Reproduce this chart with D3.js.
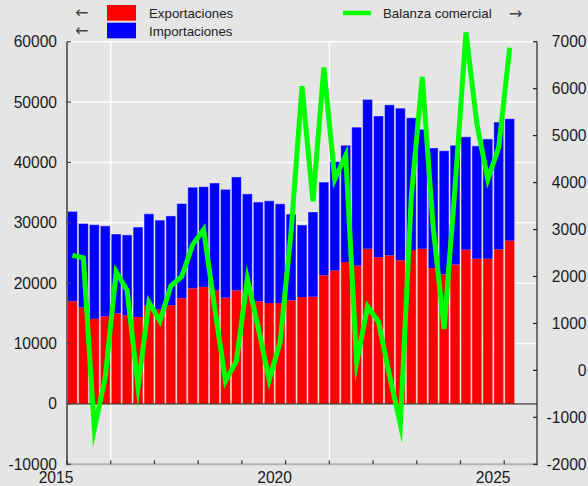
<!DOCTYPE html>
<html>
<head>
<meta charset="utf-8">
<script src="https://cdn.jsdelivr.net/npm/d3@7"></script>
<style>
  body { margin: 0; background: #e5e5e5; }
  text { font-family: "Liberation Sans", Arial, sans-serif; }
</style>
</head>
<body>
<script>
// quarterly values, 2015T1 .. 2025T1
var exportaciones = [17000,16000,14100,14500,15000,14700,14400,16300,15650,16350,
  17500,19150,19400,18800,17600,18800,18250,17000,16700,16700,
  17150,17700,17750,21300,22100,23500,22900,25700,24300,24600,
  23800,25500,25700,22500,21450,23100,25550,24050,24050,25600,27050];
var importaciones = [14900,13900,15600,15000,13150,13300,14900,15200,14800,14800,
  15700,16750,16600,17800,17950,18800,16550,16450,16950,16450,
  14300,11950,14050,15450,18050,19350,22950,24750,23400,24950,
  25200,21900,19800,19900,20500,19750,18700,18700,19850,21100,20200];
var balanza = [2450,2400,-1250,-150,2100,1700,-350,1450,1050,1800,
  2000,2680,3000,1350,-230,200,1950,900,-200,600,
  2950,6050,3600,6450,4070,4580,180,1360,1030,-100,
  -1150,3700,6250,3050,880,3900,7200,5250,4070,4750,6870];
var leftTicks = [-10000,0,10000,20000,30000,40000,50000,60000];
var rightTicks = [-2000,-1000,0,1000,2000,3000,4000,5000,6000,7000];
var yearTicks = [2015,2016,2017,2018,2019,2020,2021,2022,2023,2024,2025];
var yearLabels = [2015,2020,2025];
var gridYears = [2016,2021];

var width = 588, height = 486;
var plotLeft = 67, plotRight = 537, plotTop = 41.7, plotBottom = 464.3;

// one row per quarter, t = start of the quarter in years
var data = exportaciones.map(function(d,i){
  return {t: 2015 + i/4, exp: d, imp: importaciones[i], bal: balanza[i]};
});

var x = d3.scaleLinear().domain([2015, 2025.75]).range([plotLeft, plotRight]);
var y = d3.scaleLinear().domain([-10000, 60000]).range([plotBottom, plotTop]);
var y2 = d3.scaleLinear().domain([-2000, 7000]).range([plotBottom, plotTop]);

var svgContainer = d3.select("body").append("svg")
  .attr("width", width)
  .attr("height", height);

//grid
svgContainer.append("g").selectAll("line").data(leftTicks.filter(function(d){return d > 0;}))
  .enter().append("line")
  .attr("x1", plotLeft).attr("x2", plotRight)
  .attr("y1", function(d){return y(d);}).attr("y2", function(d){return y(d);})
  .attr("stroke", "white").attr("stroke-width", 1.5);
svgContainer.append("g").selectAll("line").data(gridYears)
  .enter().append("line")
  .attr("x1", function(d){return x(d);}).attr("x2", function(d){return x(d);})
  .attr("y1", plotTop).attr("y2", plotBottom)
  .attr("stroke", "white").attr("stroke-width", 1.5);

//bars
var bars = svgContainer.append("g");
bars.selectAll(".exp").data(data).enter().append("rect")
  .attr("class", "exp")
  .attr("x", function(d){return x(d.t) + 0.5;})
  .attr("width", function(d){return x(d.t + 0.25) - x(d.t) - 1;})
  .attr("y", function(d){return y(d.exp);})
  .attr("height", function(d){return y(0) - y(d.exp);})
  .style("fill", "#ff0000");
bars.selectAll(".imp").data(data).enter().append("rect")
  .attr("class", "imp")
  .attr("x", function(d){return x(d.t) + 0.5;})
  .attr("width", function(d){return x(d.t + 0.25) - x(d.t) - 1;})
  .attr("y", function(d){return y(d.exp + d.imp);})
  .attr("height", function(d){return y(d.exp) - y(d.exp + d.imp);})
  .style("fill", "#0000ff");
bars.selectAll(".outline").data(data).enter().append("rect")
  .attr("class", "outline")
  .attr("x", function(d){return x(d.t) + 0.5;})
  .attr("width", function(d){return x(d.t + 0.25) - x(d.t) - 1;})
  .attr("y", function(d){return y(d.exp + d.imp);})
  .attr("height", function(d){return y(0) - y(d.exp + d.imp);})
  .style("fill", "none")
  .style("stroke", "white").style("stroke-opacity", 0.45).style("stroke-width", 1);

//zero line
svgContainer.append("line")
  .attr("x1", plotLeft).attr("x2", plotRight)
  .attr("y1", y(0)).attr("y2", y(0))
  .attr("stroke", "#111").attr("stroke-width", 1);

//balance line on right axis, at middle of each quarter
var line = d3.line()
  .x(function(d){return x(d.t + 0.125);})
  .y(function(d){return y2(d.bal);});
svgContainer.append("path").datum(data)
  .attr("d", line)
  .attr("fill", "none")
  .attr("stroke", "#00ff00")
  .attr("stroke-width", 5)
  .attr("stroke-linejoin", "miter")
  .attr("stroke-miterlimit", 10);

//axes
svgContainer.append("line")
  .attr("x1", plotLeft).attr("x2", plotRight).attr("y1", plotBottom).attr("y2", plotBottom)
  .attr("stroke", "#b4b4b4").attr("stroke-width", 2);
svgContainer.append("line")
  .attr("x1", plotLeft).attr("x2", plotLeft).attr("y1", plotTop).attr("y2", plotBottom + 1)
  .attr("stroke", "#666").attr("stroke-width", 2);
svgContainer.append("line")
  .attr("x1", plotRight).attr("x2", plotRight).attr("y1", plotTop).attr("y2", plotBottom + 1)
  .attr("stroke", "#222").attr("stroke-width", 1.2);

var leftAxis = svgContainer.append("g");
leftAxis.selectAll("line").data(leftTicks).enter().append("line")
  .attr("x1", plotLeft).attr("x2", plotLeft + 4)
  .attr("y1", function(d){return y(d);}).attr("y2", function(d){return y(d);})
  .attr("stroke", "#444").attr("stroke-width", 1.2);
leftAxis.selectAll("text").data(leftTicks).enter().append("text")
  .attr("x", 57)
  .attr("y", function(d){return y(d);})
  .attr("dy", "0.35em")
  .attr("text-anchor", "end")
  .attr("font-size", "15.6px")
  .attr("fill", "#1a1a1a")
  .text(function(d){return d;});

var rightAxis = svgContainer.append("g");
rightAxis.selectAll("line").data(rightTicks).enter().append("line")
  .attr("x1", plotRight - 4).attr("x2", plotRight)
  .attr("y1", function(d){return y2(d);}).attr("y2", function(d){return y2(d);})
  .attr("stroke", "#222").attr("stroke-width", 1.2);
rightAxis.selectAll("text").data(rightTicks).enter().append("text")
  .attr("x", 586.5)
  .attr("y", function(d){return y2(d);})
  .attr("dy", "0.35em")
  .attr("text-anchor", "end")
  .attr("font-size", "15.6px")
  .attr("fill", "#1a1a1a")
  .text(function(d){return d;});

var xAxis = svgContainer.append("g");
xAxis.selectAll("line").data(yearTicks).enter().append("line")
  .attr("x1", function(d){return x(d);}).attr("x2", function(d){return x(d);})
  .attr("y1", plotBottom - 4).attr("y2", plotBottom)
  .attr("stroke", "#333").attr("stroke-width", 1.2);
xAxis.selectAll("text").data(yearLabels).enter().append("text")
  .attr("x", function(d){return x(d) - 11;})
  .attr("y", 483)
  .attr("text-anchor", "middle")
  .attr("font-size", "15.6px")
  .attr("fill", "#1a1a1a")
  .text(function(d){return d;});

//legend
var legend = svgContainer.append("g").attr("font-size", "13.3px").attr("fill", "#222");
legend.selectAll(".arrow").data([[75, 12.7, "\u2190"], [75, 30.7, "\u2190"], [509, 13.3, "\u2192"]])
  .enter().append("text")
  .attr("class", "arrow")
  .attr("x", function(d){return d[0];})
  .attr("y", function(d){return d[1];})
  .attr("dy", "0.35em")
  .style("font-family", "'DejaVu Sans', sans-serif")
  .attr("font-size", "16px")
  .attr("fill", "#444")
  .text(function(d){return d[2];});
legend.append("rect").attr("x", 107).attr("y", 5).attr("width", 29).attr("height", 15.7).style("fill", "#ff0000");
legend.append("rect").attr("x", 107).attr("y", 22.7).attr("width", 29).attr("height", 15.6).style("fill", "#0000ff");
legend.append("text").attr("x", 149).attr("y", 18.3).text("Exportaciones");
legend.append("text").attr("x", 149).attr("y", 36).text("Importaciones");
legend.append("line").attr("x1", 343).attr("x2", 371).attr("y1", 13).attr("y2", 13)
  .attr("stroke", "#00ff00").attr("stroke-width", 4.5);
legend.append("text").attr("x", 383).attr("y", 18.3).text("Balanza comercial");
</script>
</body>
</html>
